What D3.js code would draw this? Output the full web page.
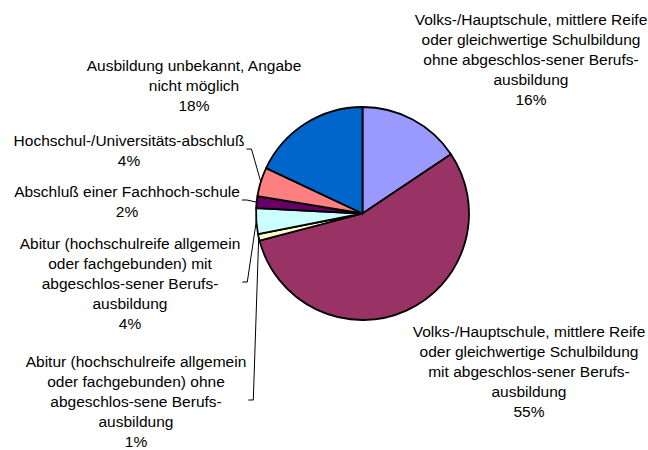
<!DOCTYPE html>
<html>
  <head>
    <meta charset="utf-8">
    <title>Ausbildung</title>
    <style>
      body { margin: 0; background: #fff; }
      text { font-family: "Liberation Sans", Arial, sans-serif; font-size: 15.5px; fill: #000; }
    </style>
  </head>
  <body>
    <div id="chart"></div>
  </body>
  <script src="https://d3js.org/d3.v7.min.js"></script>
  <script>

    // categories, line breaks as in the original chart
    let categories = [
      "Volks-/Hauptschule, mittlere Reife\noder gleichwertige Schulbildung\nohne abgeschlos-sener Berufs-\nausbildung",
      "Volks-/Hauptschule, mittlere Reife\noder gleichwertige Schulbildung\nmit abgeschlos-sener Berufs-\nausbildung",
      "Abitur (hochschulreife allgemein\noder fachgebunden) ohne\nabgeschlos-sene Berufs-\nausbildung",
      "Abitur (hochschulreife allgemein\noder fachgebunden) mit\nabgeschlos-sener Berufs-\nausbildung",
      "Abschluß einer Fachhoch-schule",
      "Hochschul-/Universitäts-abschluß",
      "Ausbildung unbekannt, Angabe\nnicht möglich"
    ];
    // shares in percent
    let shares = [15.6, 55.3, 1.0, 3.9, 1.8, 4.4, 18.0];

    let colors = ["#9999ff", "#993366", "#ffffcc", "#ccffff", "#660066", "#ff8080", "#0066cc"];

    // label placement: centre x, centre y of first line, leader line yes/no
    let labelPos = [
      {x: 531, y: 19, leader: false},
      {x: 529, y: 331, leader: false},
      {x: 136, y: 361, leader: true},
      {x: 130, y: 243, leader: true},
      {x: 127, y: 191, leader: true},
      {x: 129, y: 140, leader: true},
      {x: 194, y: 65, leader: false}
    ];

    let width = 648, height = 450;
    let cx = 362.5, cy = 213.5, radius = 106.5;
    let lineH = 20;

    let svg = d3.select("#chart").append("svg")
      .attr("width", width)
      .attr("height", height);

    let pie = d3.pie().sort(null).value(function(d) { return d; });
    let arcs = pie(shares);
    let arc = d3.arc().innerRadius(0).outerRadius(radius);

    let g = svg.append("g")
      .attr("transform", "translate(" + cx + "," + cy + ")");

    g.selectAll("path")
      .data(arcs)
      .enter().append("path")
      .attr("d", arc)
      .attr("fill", function(d, i) { return colors[i]; })
      .attr("stroke", "#000")
      .attr("stroke-width", 1.8)
      .attr("stroke-linejoin", "round");

    // labels
    arcs.forEach(function(d, i) {
      let p = labelPos[i];
      let lines = categories[i].split("\n").concat([Math.round(shares[i]) + "%"]);
      let t = svg.append("text")
        .attr("text-anchor", "middle");
      lines.forEach(function(l, k) {
        t.append("tspan")
          .attr("x", p.x)
          .attr("y", p.y + k * lineH + 5.5)
          .text(l);
      });

      if (p.leader) {
        let right = p.x + t.node().getBBox().width / 2;
        let midY = p.y + (lines.length - 1) * lineH / 2 - 1;
        let a = (d.startAngle + d.endAngle) / 2;
        let ex = cx + radius * Math.sin(a);
        let ey = cy - radius * Math.cos(a);
        svg.append("path")
          .attr("d", "M" + (right + 2) + "," + midY + "H" + (right + 7) + "L" + ex + "," + ey)
          .attr("fill", "none")
          .attr("stroke", "#000")
          .attr("stroke-width", 1);
      }
    });

  </script>
</html>
